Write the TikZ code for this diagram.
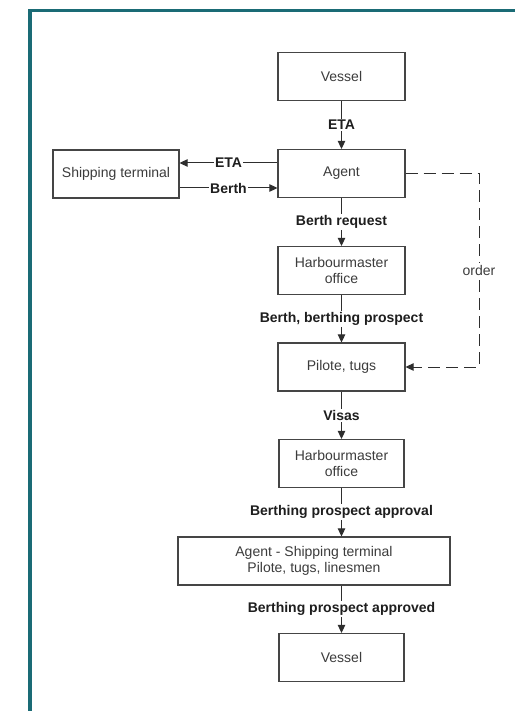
\documentclass[tikz,border=0pt]{standalone}
\usepackage{fontspec}
\setmainfont{Liberation Sans}
\usetikzlibrary{arrows.meta}
\definecolor{framecol}{HTML}{1A6B75}
\definecolor{boxline}{HTML}{454545}
\definecolor{flowline}{HTML}{2E2E2E}
\definecolor{boxtext}{HTML}{3C3C3C}
\definecolor{labeltext}{HTML}{1E1E1E}
\tikzset{
  stage/.style={draw=boxline, line width=1.2pt, fill=white, text=boxtext,
    minimum width=127pt, minimum height=48pt, inner sep=0pt, align=center,
    font=\fontsize{14}{16}\selectfont},
  flow/.style={draw=flowline, line width=1pt, -{Triangle[length=8pt,width=7.5pt]}},
  msg/.style={fill=white, text=labeltext, inner sep=1.5pt,
    font=\fontsize{14}{16}\selectfont\bfseries},
  orderline/.style={draw=flowline, line width=1pt, dash pattern=on 12pt off 6pt,
    -{Triangle[length=8pt,width=7.5pt]}},
}
\begin{document}
\begin{tikzpicture}[x=1pt,y=-1pt]
\useasboundingbox (0,0) rectangle (515,711);
\fill[white] (0,0) rectangle (515,711);
% outer frame, open to the right and bottom
\draw[framecol, line width=3.2pt] (30,711) -- (30,10.5) -- (515,10.5);

% stages
\node[stage] (vessel1) at (341.5,76.5) {Vessel};
\node[stage] (agent) at (341.5,173.5) {Agent};
\node[stage, minimum width=126pt] (terminal) at (116,174) {Shipping terminal};
\node[stage] (hm1) at (341.5,270.5) {Harbourmaster\\office};
\node[stage] (pilote) at (341.5,367) {Pilote, tugs};
\node[stage, minimum width=125pt] (hm2) at (341.5,463.5) {Harbourmaster\\office};
\node[stage, minimum width=272pt] (joint) at (314,561) {Agent - Shipping terminal\\Pilote, tugs, linesmen};
\node[stage, minimum width=125pt] (vessel2) at (341.5,657.5) {Vessel};

% main flow
\draw[flow] (vessel1) -- node[msg] (m1) {ETA} (agent);
\draw[flow] (agent) -- node[msg] (m2) {Berth request} (hm1);
\draw[flow] (hm1) -- node[msg] (m3) {Berth, berthing prospect} (pilote);
\draw[flow] (pilote) -- node[msg] (m4) {Visas} (hm2);
\draw[flow] (hm2) -- node[msg] (m5) {Berthing prospect approval} (hm2.south |- joint.north);
\draw[flow] (hm2.south |- joint.south) -- node[msg] (m6) {Berthing prospect approved} (vessel2);

% exchange with the shipping terminal
\draw[flow] (agent.west |- 0,163) -- node[msg] (m7) {ETA} (terminal.east |- 0,163);
\draw[flow] (terminal.east |- 0,188) -- node[msg] (m8) {Berth} (agent.west |- 0,188);

% order from agent to pilots and tugs
\coordinate (oc1) at (479,173.5);
\coordinate (oc2) at (479,367);
\draw[orderline] (agent.east) -- (oc1) -- (oc2) -- (pilote.east);
\node[fill=white, text=boxtext, inner sep=2pt, font=\fontsize{14}{16}\selectfont] (order) at (479,270) {order};
\end{tikzpicture}
\end{document}
